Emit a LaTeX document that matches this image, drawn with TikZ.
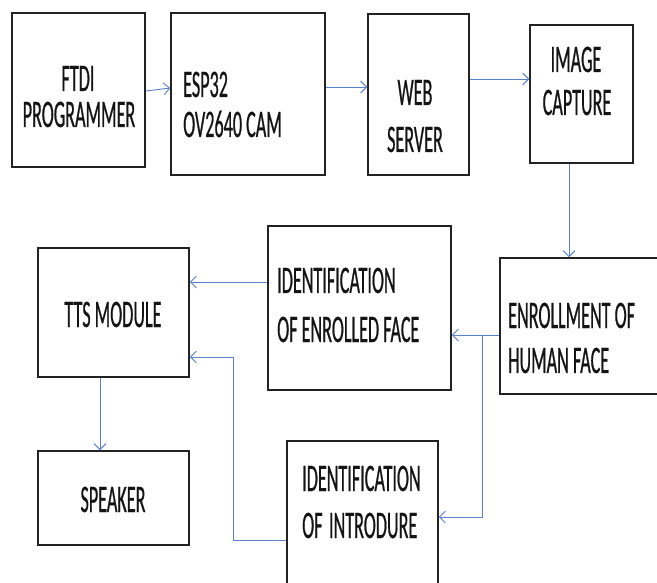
\documentclass[tikz,border=0pt]{standalone}
\usepackage{fontspec}
\usetikzlibrary{arrows.meta}
\newfontfamily\lblfont[FakeStretch=0.465,FakeBold=0.5]{Carlito}
\definecolor{linkblue}{HTML}{5B80CF}
\definecolor{boxline}{HTML}{222222}

\begin{document}
\begin{tikzpicture}[x=1pt,y=-1pt,
  box/.style={draw=boxline, line width=1.5pt, rectangle, inner sep=0pt},
  lbl/.style={inner sep=0pt, font={\lblfont\fontsize{39}{42}\selectfont}, text=black!92},
  link/.style={draw=linkblue, line width=0.9pt,
    -{Straight Barb[length=6pt,width=12pt,line width=0.9pt]}}]

\useasboundingbox (0,0) rectangle (657,583);
\clip (0,0) rectangle (657,583);
\fill[white] (0,0) rectangle (657,583);

% blocks
\node[box, minimum width=133pt, minimum height=154pt] (ftdi)   at (78.5,90)   {};
\node[box, minimum width=154pt, minimum height=162pt] (esp)    at (248,94)    {};
\node[box, minimum width=101pt, minimum height=161pt] (web)    at (418.5,94.5){};
\node[box, minimum width=103pt, minimum height=138pt] (img)    at (581.5,94)  {};
\node[box, minimum width=170pt, minimum height=136pt] (enroll) at (585,326)   {};
\node[box, minimum width=183pt, minimum height=164pt] (ident)  at (359.5,308) {};
\node[box, minimum width=151pt, minimum height=129pt] (tts)    at (113.5,312.5){};
\node[box, minimum width=151pt, minimum height=94pt]  (spk)    at (113.5,498) {};
\node[box, minimum width=151pt, minimum height=159pt] (intro)  at (362.5,520.5){};

% block captions
\node[lbl, anchor=base] (ftdiA) at (78,91)  {FTDI};
\node[lbl, anchor=base] (ftdiB) at (79,127) {PROGRAMMER};
\node[lbl, anchor=base west] (espA) at (183,97)  {ESP32};
\node[lbl, anchor=base west] (espB) at (183,137) {OV2640 CAM};
\node[lbl, anchor=base] (webA) at (415,105) {WEB};
\node[lbl, anchor=base] (webB) at (415,152) {SERVER};
\node[lbl, anchor=base] (imgA) at (576,72)  {IMAGE};
\node[lbl, anchor=base] (imgB) at (577,115) {CAPTURE};
\node[lbl, anchor=base west] (identA) at (277,293) {IDENTIFICATION};
\node[lbl, anchor=base west] (identB) at (277,342) {OF ENROLLED FACE};
\node[lbl, anchor=base west] (enrollA) at (508,328) {ENROLLMENT OF};
\node[lbl, anchor=base west] (enrollB) at (508,373) {HUMAN FACE};
\node[lbl, anchor=base] (ttsA) at (113,327) {TTS MODULE};
\node[lbl, anchor=base] (spkA) at (113,512) {SPEAKER};
\node[lbl, anchor=base west] (introA) at (302,491) {IDENTIFICATION};
\node[lbl, anchor=base west] (introB) at (302,538) {OF\hspace*{6.5pt}INTRODURE};

% connectors
\draw[link] ([yshift=-1pt]ftdi.east) -- ([yshift=6pt]esp.west);
\draw[link] ([yshift=7pt]esp.east) -- ([yshift=7pt]esp.east -| web.west);
\draw[link] ([yshift=15.5pt]web.east) -- ([yshift=15.5pt]web.east -| img.west);
\draw[link] ([xshift=-12.5pt]img.south) -- ([xshift=-12.5pt]img.south |- enroll.north);
\draw[link] ([yshift=-9pt]enroll.west) -- ([yshift=-9pt]enroll.west -| ident.east);
\coordinate (split) at (482,335);
\draw[link] (split) |- ([yshift=3.5pt]intro.east);
\draw[link] ([yshift=26pt]ident.west) -- ([yshift=26pt]ident.west -| tts.east);
\coordinate (bend) at (233,540);
\draw[link] ([yshift=-19.5pt]intro.west) -- (bend) |- ([yshift=-44.5pt]tts.east);
\draw[link] ([xshift=-13.5pt]tts.south) -- ([xshift=-13.5pt]tts.south |- spk.north);
\end{tikzpicture}
\end{document}
